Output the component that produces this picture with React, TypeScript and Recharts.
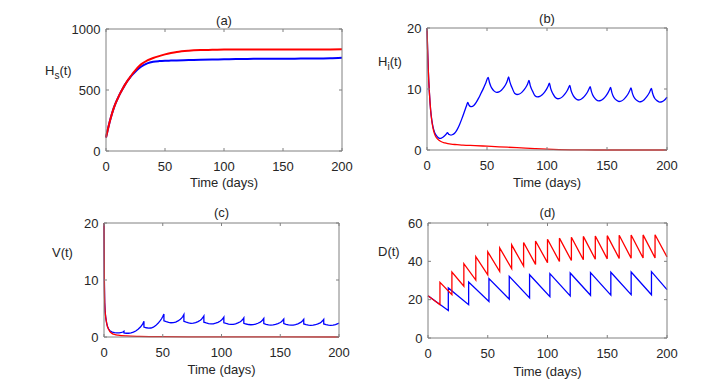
import React from 'react';
import { LineChart, Line, XAxis, YAxis } from 'recharts';

// ---- data ----
const xTicks = [0, 50, 100, 150, 200];

// (a) H_s(t)
const aTime = [0, 2, 4, 6, 8, 10, 12, 14, 16, 18, 20, 22, 25, 28, 30, 35, 40, 45, 50, 55, 60, 70, 80, 90, 100, 110, 120, 130, 140, 150, 160, 170, 180, 190, 200];
const aRed = [110, 195, 270, 335, 388, 432, 472, 508, 542, 573, 600, 627, 662, 694, 712, 742, 762, 778, 792, 803, 812, 822, 827, 829, 831, 832, 832, 832, 832, 832, 832, 832, 832, 832, 833];
const aBlue = [110, 195, 270, 335, 388, 432, 472, 508, 542, 572, 598, 622, 652, 678, 693, 718, 731, 737, 740, 741, 742, 745, 748, 750, 752, 754, 755, 756, 757, 757, 757, 758, 758, 760, 764];

// (b) H_i(t)
const bRedTime = [0, 0.5, 1, 1.5, 2, 3, 4, 5, 6, 7, 8, 10, 12, 15, 20, 25, 30, 40, 50, 60, 75, 90, 100, 110, 120, 130, 140, 200];
const bRed = [20, 16.5, 13.5, 11.2, 9.4, 6.6, 4.8, 3.6, 2.8, 2.3, 2.0, 1.6, 1.35, 1.15, 0.95, 0.88, 0.8, 0.72, 0.62, 0.52, 0.38, 0.22, 0.13, 0.07, 0.03, 0.01, 0, 0];
const bBlueTime = [
  0, 0.5, 1, 1.5, 2, 3, 4, 5, 6, 7, 8, 9, 10, 11, 12, 13, 14, 15, 16, 17, 18, 19, 20, 21, 23, 25, 27, 29, 31, 33, 34, 35, 36, 37, 39, 41, 43, 45, 47, 49, 51,
  52, 53, 54, 56, 58, 60, 62, 64, 66, 67, 68,
  69, 70, 71, 73, 75, 77, 79, 81, 83, 84, 85,
  86, 87, 88, 90, 92, 94, 96, 98, 100, 101, 102,
  103, 104, 105, 107, 109, 111, 113, 115, 117, 118, 119,
  120, 121, 122, 124, 126, 128, 130, 132, 134, 135, 136,
  137, 138, 139, 141, 143, 145, 147, 149, 151, 152, 153,
  154, 155, 156, 158, 160, 162, 164, 166, 168, 169, 170,
  171, 172, 173, 175, 177, 179, 181, 183, 185, 186, 187,
  188, 189, 190, 192, 194, 196, 198, 200,
];
const bBlue = [
  20, 16.5, 13.5, 11.2, 9.4, 6.6, 4.9, 3.8, 3.1, 2.6, 2.3, 2.1, 1.95, 1.9, 1.95, 2.05, 2.2, 2.4, 2.6, 2.85, 2.6, 2.5, 2.45, 2.5, 2.75, 3.3, 4.1, 5.1, 6.2, 7.3, 7.8, 7.35, 7.15, 7.1, 7.3, 7.8, 8.5, 9.3, 10.1, 11.0, 11.9,
  11.1, 10.55, 10.15, 9.65, 9.45, 9.53, 9.8, 10.25, 10.9, 11.4, 12.0,
  11.2, 10.6, 10.15, 9.3, 9.1, 9.18, 9.45, 9.9, 10.5, 10.9, 11.4,
  10.6, 10.05, 9.65, 8.9, 8.7, 8.78, 9.05, 9.5, 10.1, 10.5, 10.95,
  10.15, 9.6, 9.2, 8.6, 8.4, 8.48, 8.75, 9.2, 9.8, 10.2, 10.6,
  9.8, 9.25, 8.88, 8.4, 8.2, 8.28, 8.55, 9.0, 9.6, 10.0, 10.4,
  9.6, 9.05, 8.7, 8.25, 8.05, 8.13, 8.4, 8.85, 9.45, 9.85, 10.25,
  9.45, 8.9, 8.55, 8.15, 7.95, 8.03, 8.3, 8.75, 9.35, 9.75, 10.2,
  9.4, 8.85, 8.5, 8.1, 7.9, 7.98, 8.25, 8.7, 9.3, 9.7, 10.1,
  9.3, 8.75, 8.4, 8.05, 7.85, 7.93, 8.2, 8.65,
];

// (c) V(t)
const cRedTime = [0, 0.3, 0.6, 1, 1.5, 2.3, 3, 4, 5, 7, 9.4, 12, 19, 30, 50, 100, 200];
const cRed = [20, 10, 6, 4.4, 3.4, 2.4, 1.8, 1.3, 0.95, 0.6, 0.42, 0.32, 0.18, 0.1, 0.05, 0.02, 0];
const cBlueTime = [
  0, 0.3, 0.6, 1, 1.5, 2.3, 3, 4, 5, 7, 9, 11, 13, 15, 16, 17, 17, 19, 21, 23, 25, 27, 29, 31, 33, 34, 34, 36, 38, 40, 42, 44, 46, 48, 49, 50, 51, 51,
  53, 55, 57, 59, 61, 63, 65, 66, 67, 68, 68,
  70, 72, 74, 76, 78, 80, 82, 83, 84, 85, 85,
  87, 89, 91, 93, 95, 97, 99, 100, 101, 102, 102,
  104, 106, 108, 110, 112, 114, 116, 117, 118, 119, 119,
  121, 123, 125, 127, 129, 131, 133, 134, 135, 136, 136,
  138, 140, 142, 144, 146, 148, 150, 151, 152, 153, 153,
  155, 157, 159, 161, 163, 165, 167, 168, 169, 170, 170,
  172, 174, 176, 178, 180, 182, 184, 185, 186, 187, 187,
  189, 191, 193, 195, 197, 199, 200,
];
const cBlue = [
  20, 10, 6, 4.4, 3.4, 2.4, 1.85, 1.4, 1.1, 0.85, 0.75, 0.72, 0.74, 0.8, 0.88, 1.02, 0.72, 0.66, 0.66, 0.72, 0.85, 1.05, 1.35, 1.75, 2.3, 2.75, 1.75, 1.62, 1.56, 1.58, 1.72, 2.0, 2.4, 2.9, 3.2, 3.6, 4.05, 2.85,
  2.7, 2.58, 2.5, 2.52, 2.62, 2.82, 3.1, 3.3, 3.58, 3.95, 2.75,
  2.6, 2.48, 2.4, 2.42, 2.52, 2.7, 2.95, 3.12, 3.38, 3.7, 2.6,
  2.47, 2.36, 2.3, 2.32, 2.42, 2.58, 2.8, 2.97, 3.2, 3.5, 2.5,
  2.37, 2.26, 2.2, 2.22, 2.31, 2.47, 2.68, 2.84, 3.06, 3.35, 2.4,
  2.28, 2.19, 2.15, 2.17, 2.26, 2.41, 2.61, 2.76, 2.98, 3.25, 2.35,
  2.23, 2.14, 2.1, 2.12, 2.2, 2.35, 2.54, 2.68, 2.9, 3.15, 2.35,
  2.22, 2.12, 2.08, 2.1, 2.18, 2.32, 2.51, 2.65, 2.85, 3.1, 2.3,
  2.18, 2.09, 2.05, 2.07, 2.15, 2.29, 2.48, 2.62, 2.84, 3.1, 2.3,
  2.18, 2.09, 2.05, 2.07, 2.17, 2.33, 2.45,
];

// (d) D(t)
const dRedTime = [0, 10, 10, 20, 20, 30, 30, 40, 40, 50, 50, 60, 60, 70, 70, 80, 80, 90, 90, 100, 100, 110, 110, 120, 120, 130, 130, 140, 140, 150, 150, 160, 160, 170, 170, 180, 180, 190, 190, 200];
const dRed = [22, 17.4, 29.0, 22.6, 34.4, 27.0, 38.8, 30.2, 42.4, 32.9, 45.0, 34.7, 47.0, 36.2, 48.6, 37.5, 49.8, 38.4, 50.6, 39.3, 51.5, 39.9, 52.1, 40.4, 52.6, 40.8, 53.0, 41.1, 53.2, 41.3, 53.4, 41.5, 53.6, 41.6, 53.7, 41.7, 53.8, 41.8, 53.9, 42.3];
const dBlueTime = [0, 17, 17, 34, 34, 51, 51, 68, 68, 85, 85, 102, 102, 119, 119, 136, 136, 153, 153, 170, 170, 187, 187, 200];
const dBlue = [22, 14.3, 26.1, 17.4, 29.2, 19.1, 31.0, 20.2, 32.2, 20.9, 33.0, 21.6, 33.6, 22.0, 33.9, 22.3, 34.1, 22.4, 34.3, 22.6, 34.4, 22.6, 34.6, 25.2];

// ---- styling ----
const FONT = '"Liberation Sans", Arial, Helvetica, sans-serif';
const INK = '#262626';
const AXIS = '#808080';
const RED = '#ff0000';
const BLUE = '#0000ff';
const PAD_L = 40;
const PAD_R = 20;
const PAD_T = 20;
const PAD_B = 40;
const TICK = 3;

const zip = (ts: number[], vs: number[]) =>
  ts.slice(0, Math.min(ts.length, vs.length)).map((t, i) => ({ t, v: vs[i] }));

const BottomTick = (p: any) => (
  <g>
    <line x1={p.x} y1={p.y} x2={p.x} y2={p.y - TICK} stroke={AXIS} />
    <text x={p.x} y={p.y + 19.5} textAnchor="middle" fill={INK} fontSize={13} fontFamily={FONT}>
      {p.payload.value}
    </text>
  </g>
);
const TopTick = (p: any) => <line x1={p.x} y1={p.y} x2={p.x} y2={p.y + TICK} stroke={AXIS} />;
const LeftTick = (p: any) => (
  <g>
    <line x1={p.x} y1={p.y} x2={p.x + TICK} y2={p.y} stroke={AXIS} />
    <text x={p.x - 5.5} y={p.y + 4.7} textAnchor="end" fill={INK} fontSize={13} fontFamily={FONT}>
      {p.payload.value}
    </text>
  </g>
);
const RightTick = (p: any) => <line x1={p.x} y1={p.y} x2={p.x - TICK} y2={p.y} stroke={AXIS} />;

type Series = { data: { t: number; v: number }[]; color: string; curve: 'linear' | 'monotone' };

type PanelProps = {
  left: number;
  top: number;
  width: number;
  height: number;
  yMax: number;
  yTicks: number[];
  lineWidth: number;
  series: Series[];
  title: string;
  yLabel: React.ReactNode;
  yLabelX: number;
  yLabelY: number;
  titleY: number;
  xLabelY: number;
};

const label = (cx: number, cy: number, content: React.ReactNode, center = true) => (
  <div
    style={{
      position: 'absolute',
      left: center ? cx - 60 : cx,
      top: cy - 8,
      width: center ? 120 : 'auto',
      height: 16,
      lineHeight: '16px',
      textAlign: center ? 'center' : 'left',
      fontSize: 13,
      fontFamily: FONT,
      color: INK,
      whiteSpace: 'nowrap',
    }}
  >
    {content}
  </div>
);

function Panel(p: PanelProps) {
  const cx = p.left + p.width / 2;
  const first = p.series[0];
  return (
    <>
      <div style={{ position: 'absolute', left: p.left - PAD_L, top: p.top - PAD_T }}>
        <LineChart
          width={p.width + PAD_L + PAD_R}
          height={p.height + PAD_T + PAD_B}
          margin={{ top: PAD_T - 1, right: PAD_R - 1, left: 0, bottom: 0 }}
        >
          <XAxis xAxisId="b" dataKey="t" type="number" domain={[0, 200]} ticks={xTicks} interval={0}
            height={PAD_B} tickSize={0} tickMargin={0} tickLine={false} stroke={AXIS} tick={BottomTick} />
          <XAxis xAxisId="t" orientation="top" dataKey="t" type="number" domain={[0, 200]} ticks={xTicks} interval={0}
            height={1} tickSize={0} tickMargin={0} tickLine={false} stroke={AXIS} tick={TopTick} />
          <YAxis yAxisId="l" type="number" domain={[0, p.yMax]} ticks={p.yTicks} interval={0}
            width={PAD_L} tickSize={0} tickMargin={0} tickLine={false} stroke={AXIS} tick={LeftTick} />
          <YAxis yAxisId="r" orientation="right" type="number" domain={[0, p.yMax]} ticks={p.yTicks} interval={0}
            width={1} tickSize={0} tickMargin={0} tickLine={false} stroke={AXIS} tick={RightTick} />
          {/* invisible copy so the mirrored box axes have a series bound to them */}
          <Line xAxisId="t" yAxisId="r" data={first.data} dataKey="v" type="linear" stroke="none"
            dot={false} activeDot={false} isAnimationActive={false} />
          {p.series.map((s, i) => (
            <Line key={i} xAxisId="b" yAxisId="l" data={s.data} dataKey="v" type={s.curve}
              stroke={s.color} strokeWidth={p.lineWidth} dot={false} activeDot={false}
              isAnimationActive={false} />
          ))}
        </LineChart>
      </div>
      {label(cx, p.titleY, p.title)}
      {label(cx, p.xLabelY, 'Time (days)')}
      {label(p.yLabelX, p.yLabelY, p.yLabel, false)}
    </>
  );
}

const sub = (s: string) => <span style={{ fontSize: 10, position: 'relative', top: 4 }}>{s}</span>;

export default function App() {
  return (
    <div style={{ position: 'absolute', left: 0, top: 0, width: 724, height: 385, background: '#fff', overflow: 'hidden' }}>
      <Panel left={106} top={29} width={236} height={122} yMax={1000} yTicks={[0, 500, 1000]} lineWidth={2}
        series={[
          { data: zip(aTime, aBlue), color: BLUE, curve: 'monotone' },
          { data: zip(aTime, aRed), color: RED, curve: 'monotone' },
        ]}
        title="(a)" titleY={20.5} xLabelY={183}
        yLabel={<>H{sub('s')}(t)</>} yLabelX={45} yLabelY={71} />
      <Panel left={427} top={28} width={240} height={122} yMax={20} yTicks={[0, 10, 20]} lineWidth={1.3}
        series={[
          { data: zip(bBlueTime, bBlue), color: BLUE, curve: 'monotone' },
          { data: zip(bRedTime, bRed), color: RED, curve: 'monotone' },
        ]}
        title="(b)" titleY={18.5} xLabelY={182.5}
        yLabel={<>H{sub('i')}(t)</>} yLabelX={378} yLabelY={62} />
      <Panel left={104} top={223} width={235} height={114} yMax={20} yTicks={[0, 10, 20]} lineWidth={1.3}
        series={[
          { data: zip(cBlueTime, cBlue), color: BLUE, curve: 'linear' },
          { data: zip(cRedTime, cRed), color: RED, curve: 'monotone' },
        ]}
        title="(c)" titleY={213} xLabelY={370}
        yLabel="V(t)" yLabelX={52} yLabelY={253} />
      <Panel left={428} top={223} width={239} height={115} yMax={60} yTicks={[0, 20, 40, 60]} lineWidth={1.3}
        series={[
          { data: zip(dBlueTime, dBlue), color: BLUE, curve: 'linear' },
          { data: zip(dRedTime, dRed), color: RED, curve: 'linear' },
        ]}
        title="(d)" titleY={213} xLabelY={371.5}
        yLabel="D(t)" yLabelX={378} yLabelY={251.5} />
    </div>
  );
}
